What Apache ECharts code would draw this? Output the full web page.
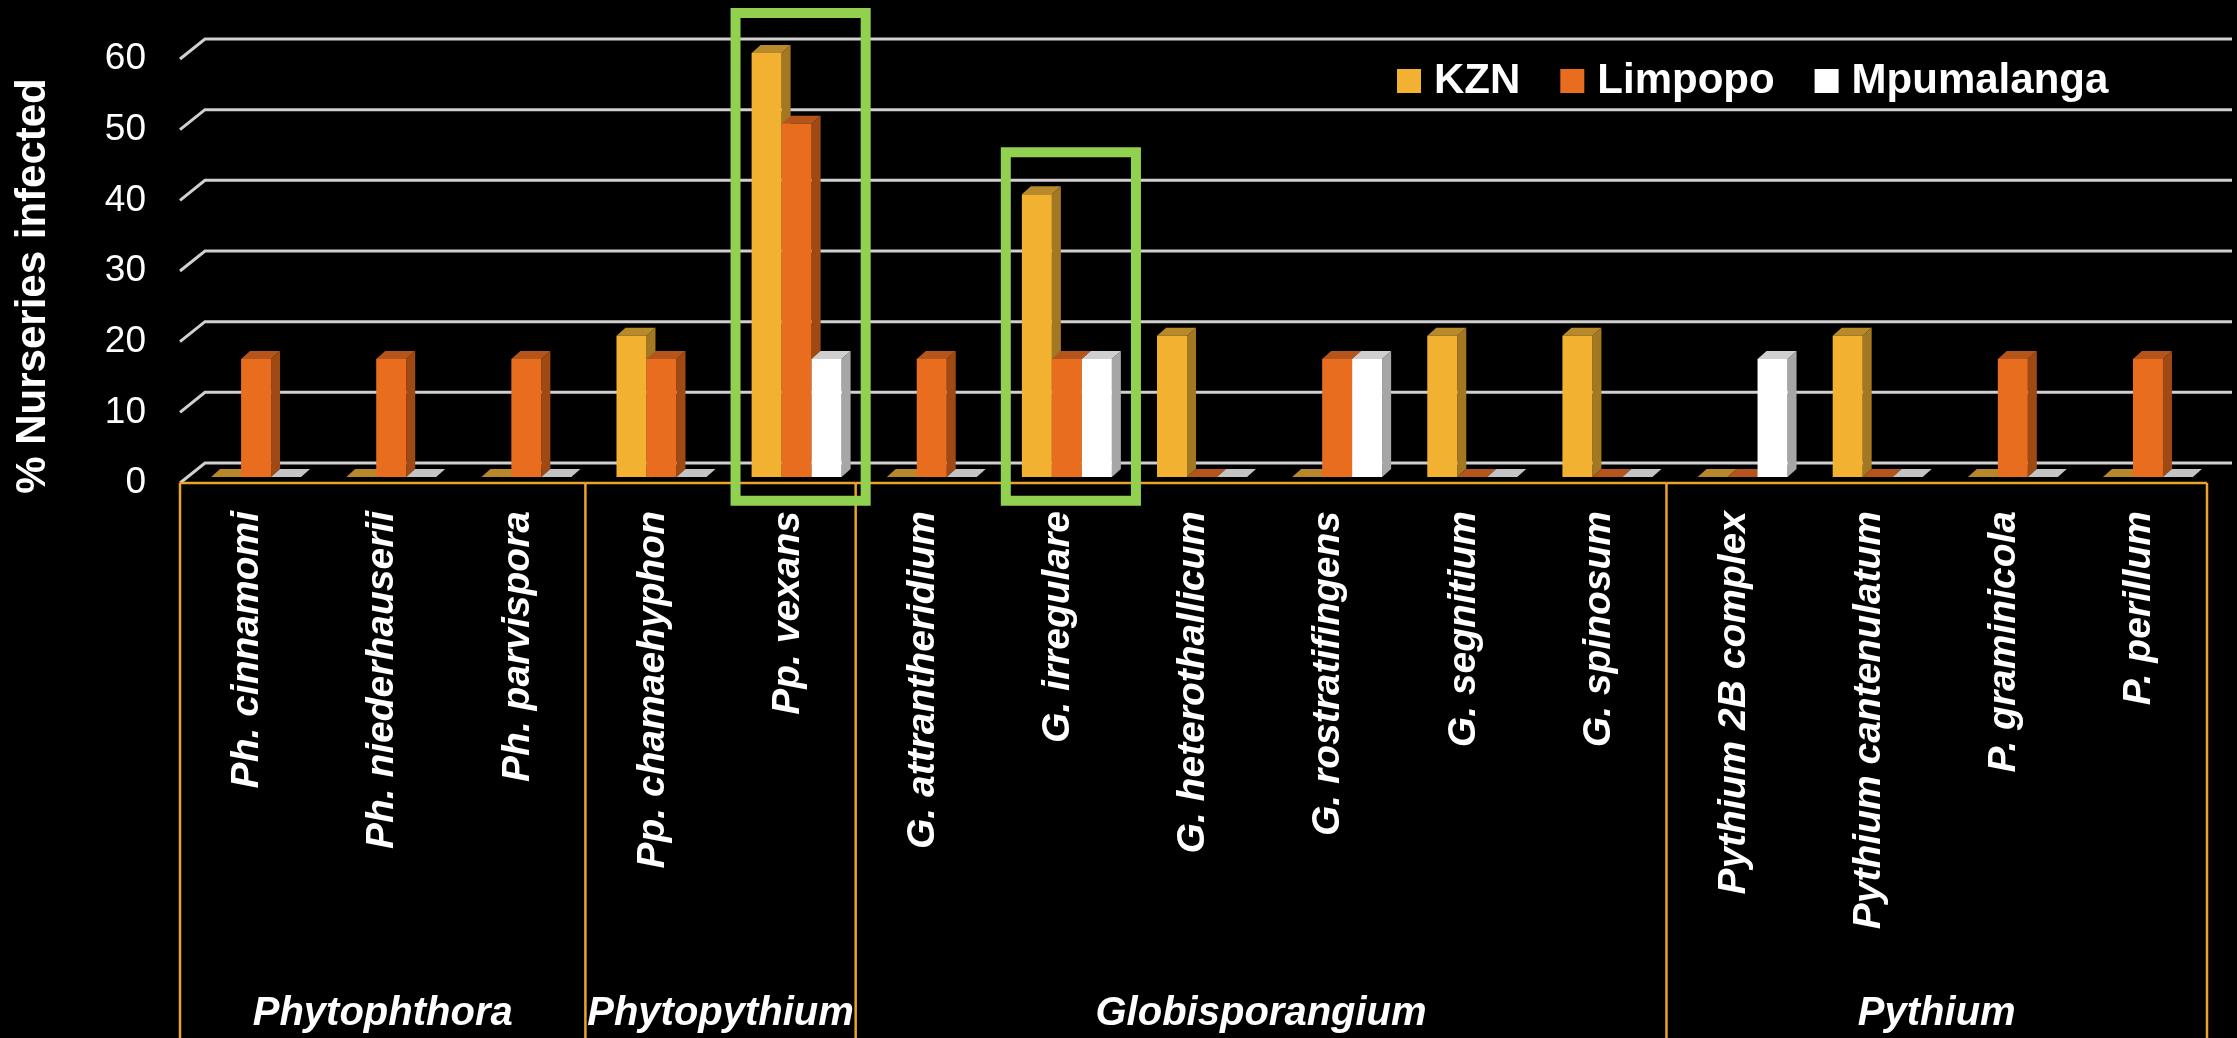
<!DOCTYPE html>
<html>
<head>
<meta charset="utf-8">
<script src="https://cdn.jsdelivr.net/npm/echarts@6/dist/echarts.min.js"></script>
<style>
  html, body { margin: 0; padding: 0; background: #000; }
  #chart { width: 2237px; height: 1038px; }
</style>
</head>
<body>
<div id="chart"></div>
<script>
// ---------- data ----------
const categories = ['Ph. cinnamomi', 'Ph. niederhauserii', 'Ph. parvispora', 'Pp. chamaehyphon', 'Pp. vexans',
  'G. attrantheridium', 'G. irregulare', 'G. heterothallicum', 'G. rostratifingens', 'G. segnitium', 'G. spinosum',
  'Pythium 2B complex', 'Pythium cantenulatum', 'P. graminicola', 'P. perillum'];
const seriesNames = ['KZN', 'Limpopo', 'Mpumalanga'];
const kzn        = [0, 0, 0, 20, 60, 0, 40, 20, 0, 20, 20, 0, 20, 0, 0];
const limpopo    = [16.7, 16.7, 16.7, 16.7, 50, 16.7, 16.7, 0, 16.7, 0, 0, 0, 0, 16.7, 16.7];
const mpumalanga = [0, 0, 0, 0, 16.7, 0, 16.7, 0, 16.7, 0, 0, 16.7, 0, 0, 0];
const yTicks = [0, 10, 20, 30, 40, 50, 60];
const genusNames = ['Phytophthora', 'Phytopythium', 'Globisporangium', 'Pythium'];
const genusStart = [0, 3, 5, 11];
const genusEnd   = [2, 4, 10, 14];
const highlightCats = ['Pp. vexans', 'G. irregulare'];
const highlightTop  = [66.5, 46.8];
const highlightBottom = -2.5;

// ---------- styles ----------
const palettes = [
  { front: '#f3b131', side: '#a37822', top: '#b98a2b', zero: '#b8872a' },
  { front: '#e96d1f', side: '#9f4a15', top: '#b5541b', zero: '#b5541b' },
  { front: '#ffffff', side: '#a6a6a6', top: '#cfcfcf', zero: '#c4c4c4' }
];
const FONT = '"Liberation Sans", Arial, sans-serif';

function barRenderer(k) {
  const pal = palettes[k];
  return function (params, api) {
    const i = api.value(0), v = api.value(1);
    const base = api.coord([i, 0]);
    const top = api.coord([i, v]);
    const bw = api.size([1, 0])[0];
    const barW = bw * 0.222;
    const shiftX = bw * 0.063, shiftY = -6;
    const dx = 9, dy = -8;
    const xl = base[0] + shiftX + (k - 1.5) * barW;
    const xr = xl + barW;
    const yb = base[1] + shiftY;
    const yt = top[1] + shiftY;
    const children = [];
    if (v <= 0) {
      children.push({ type: 'polygon', shape: { points: [[xl, yb], [xl + dx, yb + dy], [xr + dx, yb + dy], [xr, yb]] },
        style: { fill: pal.zero } });
    } else {
      children.push({ type: 'polygon', shape: { points: [[xr, yt], [xr + dx, yt + dy], [xr + dx, yb + dy], [xr, yb]] },
        style: { fill: pal.side } });
      children.push({ type: 'polygon', shape: { points: [[xl, yt], [xl + dx, yt + dy], [xr + dx, yt + dy], [xr, yt]] },
        style: { fill: pal.top } });
      children.push({ type: 'rect', shape: { x: xl, y: yt, width: barW, height: yb - yt },
        style: { fill: pal.front } });
    }
    return { type: 'group', children: children };
  };
}

const chart = echarts.init(document.getElementById('chart'), null, { renderer: 'canvas' });

const option = {
  backgroundColor: '#000000',
  animation: false,
  grid: [{ left: 180, right: 30, top: 59, bottom: 555 }],
  legend: {
    data: seriesNames,
    left: 1392,
    top: 55,
    icon: 'rect',
    itemWidth: 24,
    itemHeight: 24,
    itemGap: 40,
    textStyle: { color: '#ffffff', fontSize: 42, fontWeight: 'bold', fontFamily: FONT, padding: [0, 0, 0, 8] }
  },
  xAxis: [{
    type: 'category',
    data: categories,
    gridIndex: 0,
    axisLine: { show: false },
    axisTick: { show: false },
    splitLine: { show: false },
    axisLabel: {
      interval: 0,
      rotate: 90,
      margin: 28,
      color: '#ffffff',
      fontSize: 39,
      fontWeight: 'bold',
      fontStyle: 'italic',
      fontFamily: FONT
    }
  }],
  yAxis: [{
    type: 'value',
    gridIndex: 0,
    min: 0,
    max: 60,
    interval: 10,
    axisLine: { show: false },
    axisTick: { show: false },
    splitLine: { show: false },
    axisLabel: { color: '#ffffff', fontSize: 37, fontFamily: FONT, margin: 34 }
  }],
  graphic: [{
    type: 'text',
    x: 33,
    y: 286,
    rotation: Math.PI / 2,
    style: {
      text: '% Nurseries infected',
      fill: '#ffffff',
      font: 'bold 42px ' + FONT,
      textAlign: 'center',
      textVerticalAlign: 'middle',
      align: 'center',
      verticalAlign: 'middle'
    }
  }],
  series: [
    {
      name: 'gridlines',
      type: 'custom',
      z: 1,
      silent: true,
      data: yTicks.map(v => [0, v]),
      renderItem: function (params, api) {
        const p = api.coord([0, api.value(1)]);
        const bw = api.size([1, 0])[0];
        const left = p[0] - bw / 2;
        return {
          type: 'polyline',
          shape: { points: [[left, p[1]], [left + 25, p[1] - 20], [api.getWidth() - 5, p[1] - 20]] },
          style: { stroke: '#d0d0d0', lineWidth: 3, fill: null }
        };
      }
    },
    {
      name: 'genusFrame',
      type: 'custom',
      z: 2,
      silent: true,
      data: genusStart.map((s, k) => [s, genusEnd[k], k]),
      renderItem: function (params, api) {
        const s = api.value(0), e = api.value(1), k = api.value(2);
        const bw = api.size([1, 0])[0];
        const ps = api.coord([s, 0]);
        const pe = api.coord([e, 0]);
        const left = ps[0] - bw / 2, right = pe[0] + bw / 2, y0 = ps[1];
        const H = api.getHeight();
        const stroke = { stroke: '#eba32a', lineWidth: 2.5 };
        const children = [
          { type: 'line', shape: { x1: left, y1: y0, x2: right, y2: y0 }, style: stroke },
          { type: 'line', shape: { x1: left, y1: y0, x2: left, y2: H }, style: stroke },
          { type: 'text', style: {
              text: genusNames[k], x: (left + right) / 2, y: H - 24,
              fill: '#ffffff', font: 'italic bold 40px ' + FONT,
              textAlign: 'center', textVerticalAlign: 'middle', align: 'center', verticalAlign: 'middle' } }
        ];
        if (k === genusNames.length - 1) {
          children.push({ type: 'line', shape: { x1: right, y1: y0, x2: right, y2: H }, style: stroke });
        }
        return { type: 'group', children: children };
      }
    },
    { name: seriesNames[0], type: 'custom', z: 3, itemStyle: { color: palettes[0].front },
      data: kzn.map((v, i) => [i, v]), renderItem: barRenderer(0) },
    { name: seriesNames[1], type: 'custom', z: 3, itemStyle: { color: palettes[1].front },
      data: limpopo.map((v, i) => [i, v]), renderItem: barRenderer(1) },
    { name: seriesNames[2], type: 'custom', z: 3, itemStyle: { color: palettes[2].front },
      data: mpumalanga.map((v, i) => [i, v]), renderItem: barRenderer(2) },
    {
      name: 'highlight',
      type: 'custom',
      z: 5,
      silent: true,
      data: highlightCats.map((c, k) => [categories.indexOf(c), highlightTop[k]]),
      renderItem: function (params, api) {
        const i = api.value(0);
        const bw = api.size([1, 0])[0];
        const t = api.coord([i, api.value(1)]);
        const b = api.coord([i, highlightBottom]);
        return {
          type: 'rect',
          shape: { x: t[0] - bw / 2 + 15, y: t[1], width: bw - 5, height: b[1] - t[1] },
          style: { stroke: '#92d050', lineWidth: 10, fill: null }
        };
      }
    }
  ]
};
chart.setOption(option);
</script>
</body>
</html>
